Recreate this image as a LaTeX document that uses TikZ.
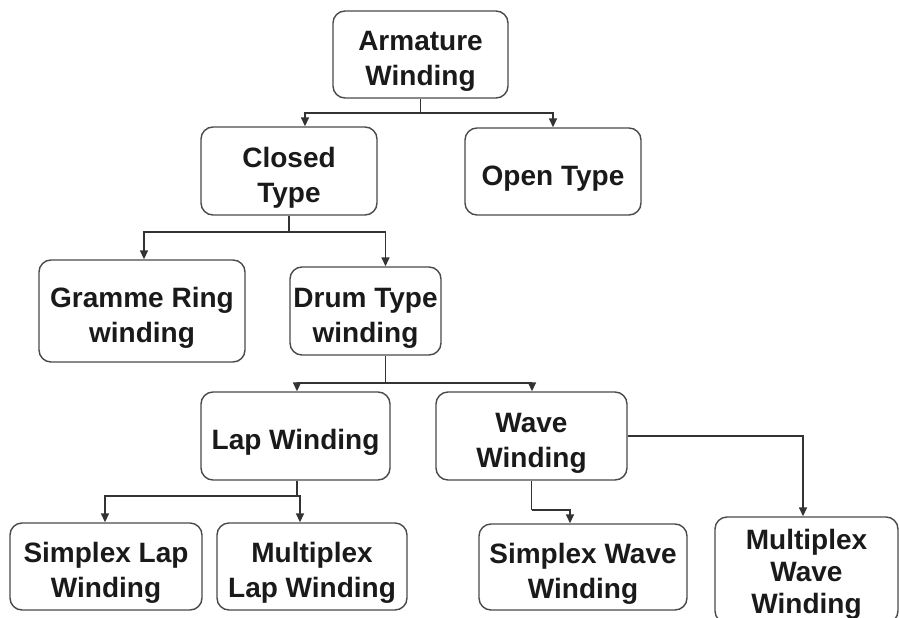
\documentclass[tikz,border=0pt]{standalone}
\usepackage{fontspec}
\setmainfont{Liberation Sans}
\usetikzlibrary{arrows.meta}
\definecolor{linec}{HTML}{333333}
\definecolor{boxc}{HTML}{4A4A4A}
\definecolor{txtc}{HTML}{1A1A1A}
\newcommand\topstrut{\rule{0pt}{33pt}}
\tikzset{
  box/.style={draw=boxc, line width=1.4pt, rounded corners=12pt, align=center,
    text=txtc, font=\fontsize{28}{35}\selectfont\bfseries, inner sep=0pt},
  arr/.style={draw=linec, line width=1.5pt, -{Triangle[length=9pt,width=8pt]}},
  ln/.style={draw=linec, line width=1.5pt}
}
\begin{document}
\begin{tikzpicture}[x=1pt,y=-1pt]
\useasboundingbox (0,0) rectangle (899,618);
\node[box, minimum width=175pt, minimum height=87pt] (arm) at (420.5,54.5) {\topstrut Armature\\Winding};
\node[box, minimum width=176pt, minimum height=88pt] (closed) at (289,171) {\topstrut Closed\\Type};
\node[box, minimum width=176pt, minimum height=87pt] (open) at (553,171.5) {\topstrut Open Type};
\node[box, minimum width=206pt, minimum height=102pt] (gramme) at (142,311) {\topstrut Gramme Ring\\winding};
\node[box, minimum width=151pt, minimum height=88pt] (drum) at (365.5,311) {\topstrut Drum Type\\winding};
\node[box, minimum width=189pt, minimum height=88pt] (lap) at (295.5,436) {\topstrut Lap Winding};
\node[box, minimum width=191pt, minimum height=88pt] (wave) at (531.5,436) {\topstrut Wave\\Winding};
\node[box, minimum width=192pt, minimum height=87pt] (slap) at (106,566.5) {\topstrut Simplex Lap\\Winding};
\node[box, minimum width=190pt, minimum height=87pt] (mlap) at (312,566.5) {\topstrut Multiplex\\Lap Winding};
\node[box, minimum width=208pt, minimum height=86pt] (swave) at (583,567) {\topstrut Simplex Wave\\Winding};
\node[box, minimum width=183pt, minimum height=106pt, font=\fontsize{28}{32}\selectfont\bfseries] (mwave) at (806.5,570) {\rule{0pt}{28pt}Multiplex\\Wave\\Winding};

\coordinate (j1) at (420.5,113);
\draw[ln] (arm.south) -- (j1);
\draw[arr] (j1) -| ([xshift=16pt]closed.north);
\draw[arr] (j1) -| (open.north);

\coordinate (j2) at (289,232);
\draw[ln] (closed.south) -- (j2);
\draw[arr] (j2) -| ([xshift=2pt]gramme.north);
\draw[arr] (j2) -| ([xshift=20pt]drum.north);

\coordinate (j3) at (385.5,383);
\draw[ln] ([xshift=20pt]drum.south) -- (j3);
\draw[arr] (j3) -| ([xshift=1.5pt]lap.north);
\draw[arr] (j3) -| ([xshift=0.5pt]wave.north);

\coordinate (j4) at (297,496);
\draw[ln] ([xshift=1.5pt]lap.south) -- (j4);
\draw[arr] (j4) -| ([xshift=-1pt]slap.north);
\draw[arr] (j4) -| ([xshift=-12pt]mlap.north);

\coordinate (j5) at (531.5,510);
\draw[ln] (wave.south) -- (j5);
\draw[arr] (j5) -| ([xshift=-13pt]swave.north);

\draw[arr] (wave.east) -| ([xshift=-3.5pt]mwave.north);
\end{tikzpicture}
\end{document}
